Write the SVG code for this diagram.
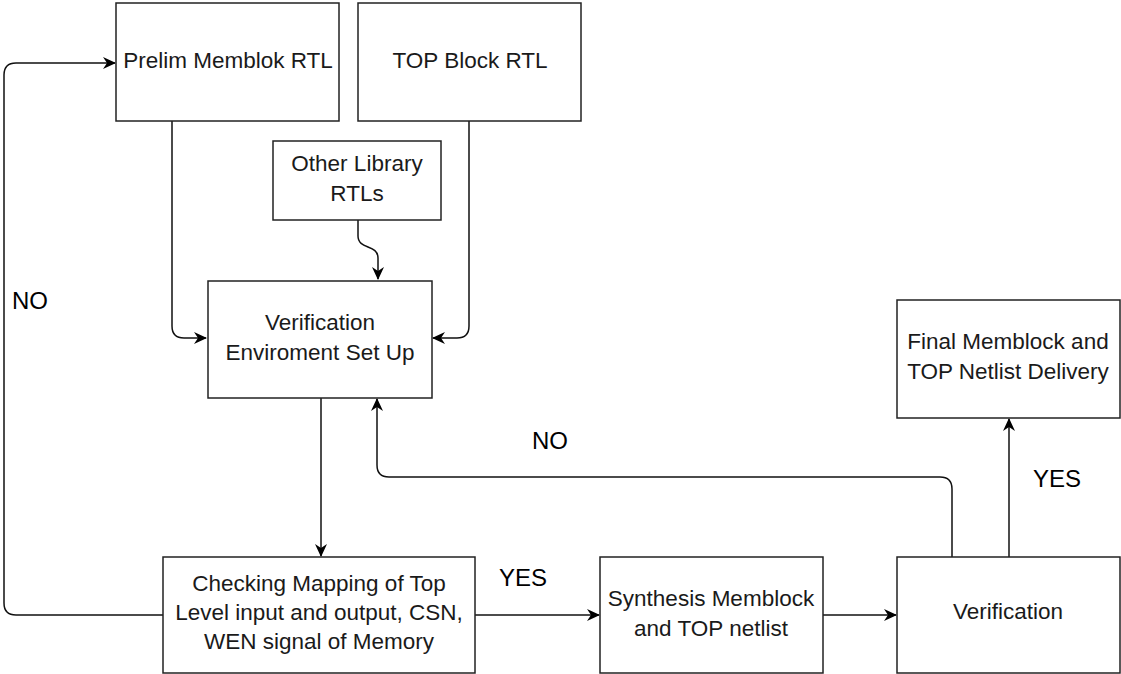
<svg xmlns="http://www.w3.org/2000/svg" width="1121" height="674" viewBox="0 0 1121 674">
<style>
.box{fill:#fff;stroke:#222;stroke-width:1.5}
.t{font-family:"Liberation Sans",Arial,sans-serif;font-size:22.5px;fill:#1a1a1a;text-anchor:middle;dominant-baseline:central}
.lbl{font-family:"Liberation Sans",Arial,sans-serif;font-size:24px;fill:#000;text-anchor:middle;dominant-baseline:central}
.c{fill:none;stroke:#111;stroke-width:1.5}
</style>
<defs>
<marker id="ah" viewBox="0 0 13 12" refX="12" refY="6" markerWidth="13" markerHeight="12" markerUnits="userSpaceOnUse" orient="auto">
<path d="M0,0 L13,6 L0,12 L4,6 z" fill="#000"/>
</marker>
</defs>
<rect width="1121" height="674" fill="#fff"/>
<g id="connectors">
<path class="c" d="M172,121 V326 Q172,338 184,338 H206" marker-end="url(#ah)"/>
<path class="c" d="M469,121 V326 Q469,338 457,338 H433" marker-end="url(#ah)"/>
<path class="c" d="M358,220 V236 C358,250 378,244 378,258 V279" marker-end="url(#ah)"/>
<path class="c" d="M321,398 V556" marker-end="url(#ah)"/>
<path class="c" d="M475,615 H599" marker-end="url(#ah)"/>
<path class="c" d="M823,615 H896" marker-end="url(#ah)"/>
<path class="c" d="M1009,557 V419" marker-end="url(#ah)"/>
<path class="c" d="M952,557 V489 Q952,477 940,477 H389 Q377,477 377,465 V399" marker-end="url(#ah)"/>
<path class="c" d="M163,615 H16 Q4,615 4,603 V75 Q4,63 16,63 H115" marker-end="url(#ah)"/>
<text class="lbl" x="30" y="300">NO</text>
<text class="lbl" x="550" y="440">NO</text>
<text class="lbl" x="523" y="577">YES</text>
<text class="lbl" x="1057" y="478">YES</text>
</g>
<g id="prelim"><rect class="box" x="116" y="3" width="223" height="118"/><text class="t" x="228" y="60">Prelim Memblok RTL</text></g>
<g id="topblock"><rect class="box" x="358" y="3" width="223" height="118"/><text class="t" x="470" y="60">TOP Block RTL</text></g>
<g id="otherlib"><rect class="box" x="273" y="141" width="168" height="79"/><text class="t" x="357" y="163">Other Library</text><text class="t" x="357" y="193">RTLs</text></g>
<g id="verenv"><rect class="box" x="208" y="281" width="224" height="117"/><text class="t" x="320" y="322">Verification</text><text class="t" x="320" y="352">Enviroment Set Up</text></g>
<g id="checking"><rect class="box" x="163" y="557" width="312" height="116"/><text class="t" x="319" y="583">Checking Mapping of Top</text><text class="t" x="319" y="612">Level input and output, CSN,</text><text class="t" x="319" y="641">WEN signal of Memory</text></g>
<g id="synthesis"><rect class="box" x="600" y="557" width="223" height="116"/><text class="t" x="711" y="598">Synthesis Memblock</text><text class="t" x="711" y="628">and TOP netlist</text></g>
<g id="verification"><rect class="box" x="897" y="557" width="223" height="116"/><text class="t" x="1008" y="611">Verification</text></g>
<g id="final"><rect class="box" x="897" y="300" width="223" height="118"/><text class="t" x="1008" y="341">Final Memblock and</text><text class="t" x="1008" y="371">TOP Netlist Delivery</text></g>
</svg>
